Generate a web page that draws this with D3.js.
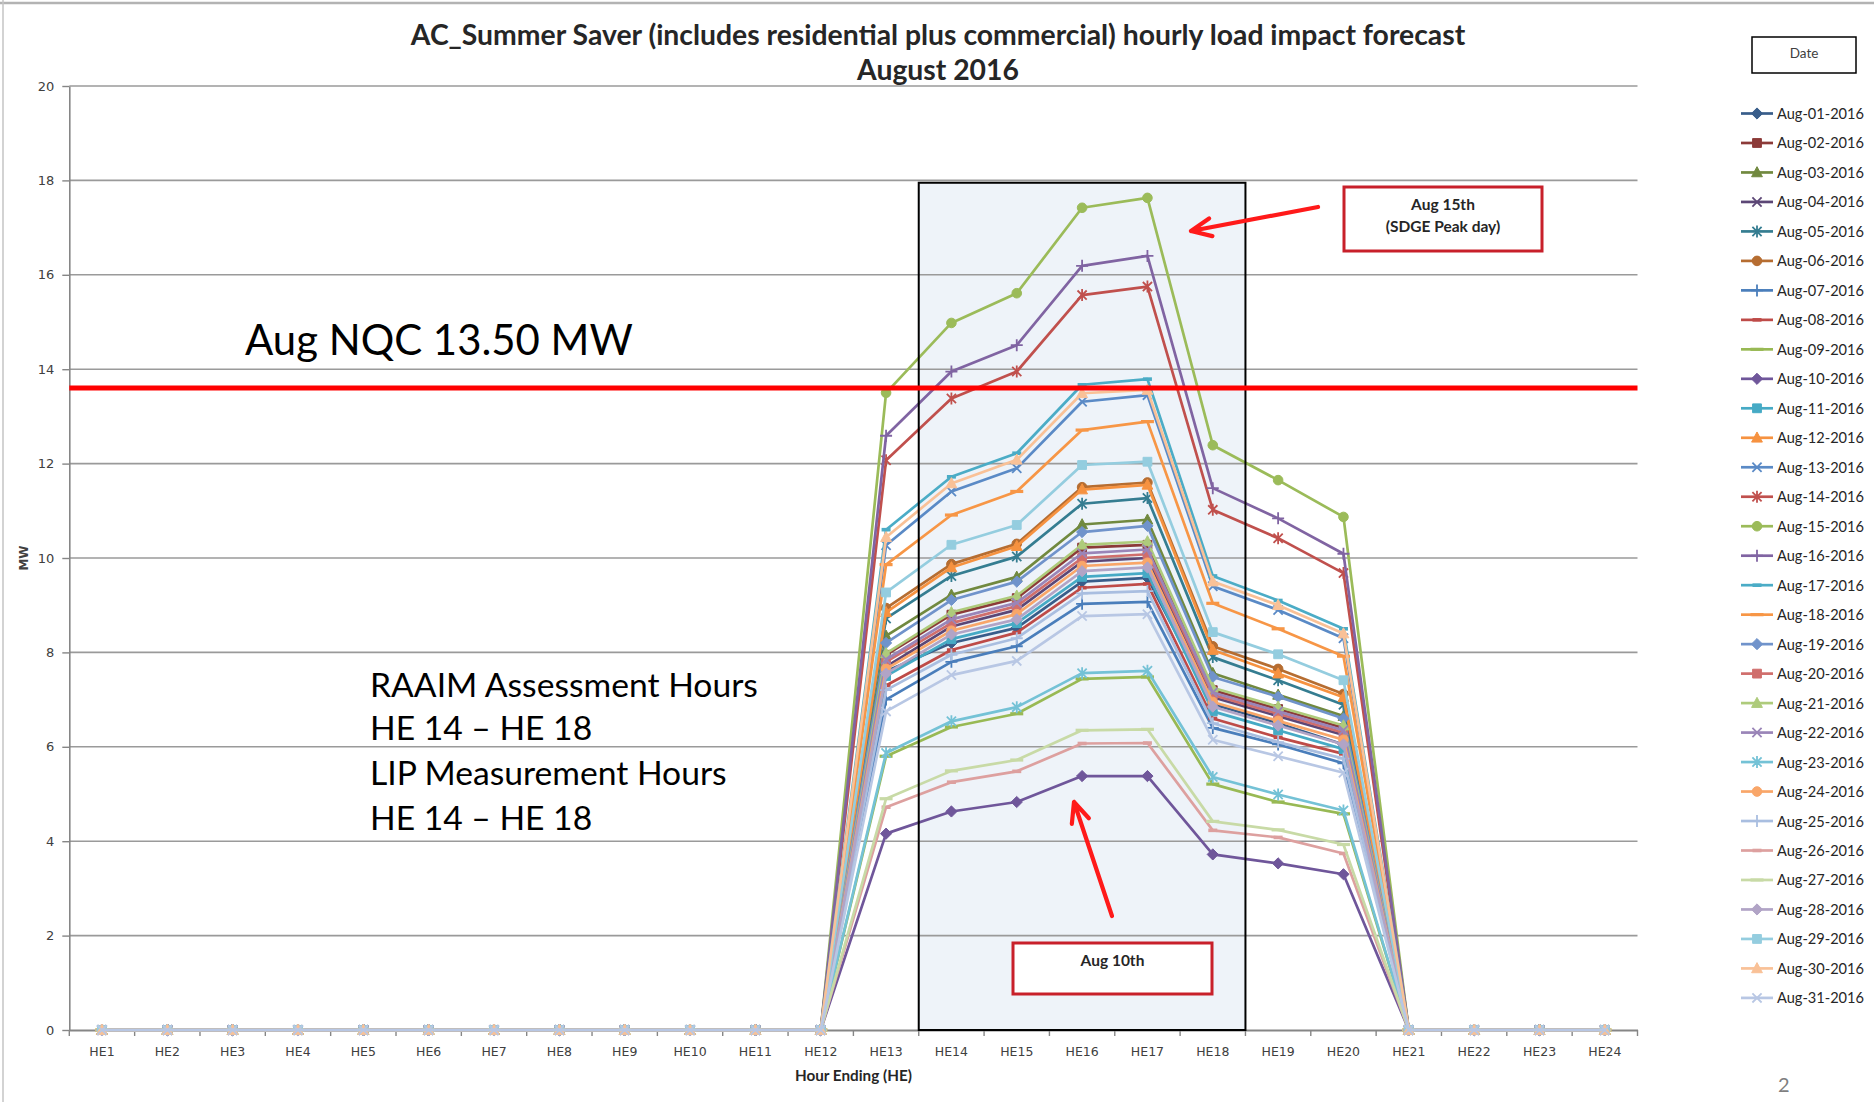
<!DOCTYPE html>
<html><head><meta charset="utf-8">
<script src="https://cdn.jsdelivr.net/npm/d3@7"></script>
<style>html,body{margin:0;padding:0;background:#fff;} svg{display:block}</style>
</head><body>
<svg id="chart" width="1874" height="1102"></svg>
<script>
// ---------- DATA ----------
const hours = ["HE1","HE2","HE3","HE4","HE5","HE6","HE7","HE8","HE9","HE10","HE11","HE12",
               "HE13","HE14","HE15","HE16","HE17","HE18","HE19","HE20","HE21","HE22","HE23","HE24"];
const yTicks = [0,2,4,6,8,10,12,14,16,18,20];
const dates = ["Aug-01-2016","Aug-02-2016","Aug-03-2016","Aug-04-2016","Aug-05-2016","Aug-06-2016",
  "Aug-07-2016","Aug-08-2016","Aug-09-2016","Aug-10-2016","Aug-11-2016","Aug-12-2016","Aug-13-2016",
  "Aug-14-2016","Aug-15-2016","Aug-16-2016","Aug-17-2016","Aug-18-2016","Aug-19-2016","Aug-20-2016",
  "Aug-21-2016","Aug-22-2016","Aug-23-2016","Aug-24-2016","Aug-25-2016","Aug-26-2016","Aug-27-2016",
  "Aug-28-2016","Aug-29-2016","Aug-30-2016","Aug-31-2016"];

const aug01 = [0,0,0,0,0,0,0,0,0,0,0,0, 7.60, 8.20, 8.52, 9.50, 9.58, 6.90, 6.50, 6.05, 0,0,0,0];
const aug02 = [0,0,0,0,0,0,0,0,0,0,0,0, 7.95, 8.80, 9.15,10.22,10.28, 7.20, 6.80, 6.40, 0,0,0,0];
const aug03 = [0,0,0,0,0,0,0,0,0,0,0,0, 8.35, 9.22, 9.60,10.71,10.81, 7.56, 7.10, 6.65, 0,0,0,0];
const aug04 = [0,0,0,0,0,0,0,0,0,0,0,0, 7.70, 8.55, 8.90, 9.92,10.00, 7.05, 6.65, 6.25, 0,0,0,0];
const aug05 = [0,0,0,0,0,0,0,0,0,0,0,0, 8.72, 9.62,10.03,11.15,11.27, 7.90, 7.41, 6.89, 0,0,0,0];
const aug06 = [0,0,0,0,0,0,0,0,0,0,0,0, 8.94, 9.87,10.30,11.50,11.60, 8.13, 7.65, 7.12, 0,0,0,0];
const aug07 = [0,0,0,0,0,0,0,0,0,0,0,0, 7.00, 7.80, 8.13, 9.03, 9.07, 6.40, 6.05, 5.65, 0,0,0,0];
const aug08 = [0,0,0,0,0,0,0,0,0,0,0,0, 7.30, 8.05, 8.42, 9.37, 9.45, 6.60, 6.20, 5.85, 0,0,0,0];
const aug09 = [0,0,0,0,0,0,0,0,0,0,0,0, 5.80, 6.42, 6.70, 7.44, 7.48, 5.21, 4.83, 4.58, 0,0,0,0];
const aug10 = [0,0,0,0,0,0,0,0,0,0,0,0, 4.16, 4.63, 4.83, 5.38, 5.38, 3.72, 3.53, 3.30, 0,0,0,0];
const aug11 = [0,0,0,0,0,0,0,0,0,0,0,0, 7.50, 8.28, 8.62, 9.60, 9.68, 6.75, 6.35, 5.95, 0,0,0,0];
const aug12 = [0,0,0,0,0,0,0,0,0,0,0,0, 8.85, 9.80,10.25,11.45,11.55, 8.05, 7.55, 7.05, 0,0,0,0];
const aug13 = [0,0,0,0,0,0,0,0,0,0,0,0,10.27,11.41,11.90,13.31,13.45, 9.40, 8.90, 8.30, 0,0,0,0];
const aug14 = [0,0,0,0,0,0,0,0,0,0,0,0,12.07,13.38,13.95,15.57,15.75,11.02,10.42, 9.68, 0,0,0,0];
const aug15 = [0,0,0,0,0,0,0,0,0,0,0,0,13.50,14.98,15.61,17.42,17.63,12.39,11.65,10.87, 0,0,0,0];
const aug16 = [0,0,0,0,0,0,0,0,0,0,0,0,12.59,13.95,14.51,16.19,16.40,11.48,10.84,10.09, 0,0,0,0];
const aug17 = [0,0,0,0,0,0,0,0,0,0,0,0,10.60,11.72,12.22,13.67,13.79, 9.62, 9.10, 8.50, 0,0,0,0];
const aug18 = [0,0,0,0,0,0,0,0,0,0,0,0, 9.86,10.91,11.41,12.71,12.89, 9.04, 8.50, 7.92, 0,0,0,0];
const aug19 = [0,0,0,0,0,0,0,0,0,0,0,0, 8.20, 9.11, 9.50,10.55,10.68, 7.48, 7.06, 6.60, 0,0,0,0];
const aug20 = [0,0,0,0,0,0,0,0,0,0,0,0, 7.80, 8.62, 8.98,10.00,10.08, 7.10, 6.70, 6.30, 0,0,0,0];
const aug21 = [0,0,0,0,0,0,0,0,0,0,0,0, 7.98, 8.85, 9.20,10.28,10.35, 7.25, 6.85, 6.45, 0,0,0,0];
const aug22 = [0,0,0,0,0,0,0,0,0,0,0,0, 7.85, 8.70, 9.05,10.10,10.18, 7.15, 6.75, 6.35, 0,0,0,0];
const aug23 = [0,0,0,0,0,0,0,0,0,0,0,0, 5.87, 6.54, 6.84, 7.56, 7.61, 5.36, 4.99, 4.65, 0,0,0,0];
const aug24 = [0,0,0,0,0,0,0,0,0,0,0,0, 7.65, 8.46, 8.81, 9.83, 9.90, 6.95, 6.55, 6.15, 0,0,0,0];
const aug25 = [0,0,0,0,0,0,0,0,0,0,0,0, 7.20, 7.95, 8.30, 9.25, 9.30, 6.50, 6.10, 5.75, 0,0,0,0];
const aug26 = [0,0,0,0,0,0,0,0,0,0,0,0, 4.72, 5.25, 5.48, 6.07, 6.08, 4.23, 4.08, 3.74, 0,0,0,0];
const aug27 = [0,0,0,0,0,0,0,0,0,0,0,0, 4.90, 5.49, 5.72, 6.35, 6.37, 4.42, 4.24, 3.93, 0,0,0,0];
const aug28 = [0,0,0,0,0,0,0,0,0,0,0,0, 7.55, 8.38, 8.70, 9.72, 9.80, 6.85, 6.45, 6.05, 0,0,0,0];
const aug29 = [0,0,0,0,0,0,0,0,0,0,0,0, 9.27,10.28,10.70,11.97,12.04, 8.43, 7.96, 7.41, 0,0,0,0];
const aug30 = [0,0,0,0,0,0,0,0,0,0,0,0,10.44,11.58,12.08,13.49,13.56, 9.50, 9.00, 8.40, 0,0,0,0];
const aug31 = [0,0,0,0,0,0,0,0,0,0,0,0, 6.75, 7.52, 7.82, 8.77, 8.81, 6.15, 5.80, 5.45, 0,0,0,0];

const seriesValues = [aug01,aug02,aug03,aug04,aug05,aug06,aug07,aug08,aug09,aug10,aug11,aug12,aug13,
  aug14,aug15,aug16,aug17,aug18,aug19,aug20,aug21,aug22,aug23,aug24,aug25,aug26,aug27,aug28,aug29,aug30,aug31];

const seriesColors = ["#385D8A","#8C3A38","#71893F","#5C4776","#357D91","#B66D31",
  "#4A7EBB","#BE4B48","#98B954","#6F569A","#46AAC5","#F69240",
  "#5A8AC6","#C0504D","#9BBB59","#8064A2","#4BACC6","#F79646",
  "#7093CB","#D06E6C","#AECB7B","#9A85B8","#74C2D6","#F9A669",
  "#A9BEE0","#DDA09F","#C8DAA6","#B1A4C6","#94CDDF","#F9C197","#B8C7E4"];
const markerCycle = ["diamond","square","triangle","x","star","circle","plus","dash","longdash"];

const nqcValue = 13.6;
const nqcLabel = "Aug NQC 13.50 MW";
const windowHours = ["HE14","HE18"];
const windowTop = 17.95;
const titleLines = ["AC_Summer Saver (includes residential plus commercial) hourly load impact forecast","August 2016"];
const noteLines = ["RAAIM Assessment Hours","HE 14 \u2013 HE 18","LIP Measurement Hours","HE 14 \u2013 HE 18"];
const peakNote = ["Aug 15th","(SDGE Peak day)"];
const lowNote = ["Aug 10th"];

// ---------- LAYOUT ----------
const svg = d3.select("#chart");
const X0 = 69.3, X1 = 1637.5, Y0 = 1030, Y1 = 86;
const x = d3.scaleBand().domain(hours).range([X0, X1]).paddingInner(0).paddingOuter(0);
const y = d3.scaleLinear().domain([0, 20]).range([Y0, Y1]);
const cx = h => x(h) + x.bandwidth() / 2;
const sans = "Lato, 'Open Sans', sans-serif";
const axisFont = "'DejaVu Sans', Verdana, sans-serif";

function fit(sel, target) {
  const w = sel.node().getComputedTextLength();
  const fs = parseFloat(sel.attr("font-size"));
  sel.attr("font-size", (fs * target / w).toFixed(2));
  return fs * target / w;
}

// slide frame bits
svg.append("line").attr("x1",0).attr("x2",1874).attr("y1",3).attr("y2",3).attr("stroke","#b3b3b3").attr("stroke-width",2.5);
svg.append("line").attr("x1",3).attr("x2",3).attr("y1",0).attr("y2",1102).attr("stroke","#c4c4c4").attr("stroke-width",1.5);

// shaded window
const wx0 = x(windowHours[0]), wx1 = x(windowHours[1]) + x.bandwidth();
svg.append("rect").attr("x", wx0).attr("y", y(windowTop)).attr("width", wx1 - wx0).attr("height", Y0 - y(windowTop))
  .attr("fill", "#EEF3F9");

// gridlines
svg.append("g").selectAll("line").data(yTicks.filter(t => t > 0)).join("line")
  .attr("x1", X0).attr("x2", X1).attr("y1", d => y(d)).attr("y2", d => y(d))
  .attr("stroke", "#9a9a9a").attr("stroke-width", 1.6);

// y axis
const yAxis = svg.append("g").attr("transform", `translate(${X0},0)`)
  .call(d3.axisLeft(y).tickValues(yTicks).tickSize(7).tickSizeOuter(0).tickPadding(8));
yAxis.select(".domain").attr("stroke", "#868686").attr("stroke-width", 1.6);
yAxis.selectAll(".tick line").attr("stroke", "#868686").attr("stroke-width", 1.4);
yAxis.selectAll("text").attr("font-family", axisFont).attr("font-size", 13).attr("fill", "#404040");

// x axis
const xAxis = svg.append("g").attr("transform", `translate(0,${Y0})`)
  .call(d3.axisBottom(x).tickSize(0).tickSizeOuter(0).tickPadding(17));
xAxis.select(".domain").attr("stroke", "#868686").attr("stroke-width", 1.8);
xAxis.selectAll("text").attr("font-family", axisFont).attr("font-size", 12.5).attr("fill", "#404040");
svg.append("g").selectAll("line").data(d3.range(hours.length + 1)).join("line")
  .attr("x1", i => X0 + i * x.bandwidth()).attr("x2", i => X0 + i * x.bandwidth())
  .attr("y1", Y0).attr("y2", Y0 + 6).attr("stroke", "#868686").attr("stroke-width", 1.4);

// axis titles
svg.append("text").attr("transform", `translate(24,${(Y0 + Y1) / 2}) rotate(-90)`)
  .attr("text-anchor", "middle").attr("dominant-baseline", "middle")
  .attr("font-family", axisFont).attr("font-weight", "bold").attr("font-size", 12).attr("fill", "#404040").text("MW");
const xt = svg.append("text").attr("x", (X0 + X1) / 2).attr("y", 1081).attr("text-anchor", "middle")
  .attr("font-family", sans).attr("font-weight", "bold").attr("font-size", 14).attr("fill", "#262626").text("Hour Ending (HE)");
fit(xt, 117);

// markers
const markerShapes = {
  diamond: {d: "M0,-5.6L5.6,0L0,5.6L-5.6,0Z", fill: true},
  square: {d: "M-4.4,-4.4H4.4V4.4H-4.4Z", fill: true},
  triangle: {d: "M0,-5.8L5.4,4.3H-5.4Z", fill: true},
  circle: {d: "M4.8,0A4.8,4.8 0 1,1 -4.8,0A4.8,4.8 0 1,1 4.8,0Z", fill: true},
  x: {d: "M-4.6,-4.6L4.6,4.6M-4.6,4.6L4.6,-4.6", sw: 1.8},
  star: {d: "M-4.6,-4.6L4.6,4.6M-4.6,4.6L4.6,-4.6M0,-6L0,6", sw: 1.8},
  plus: {d: "M-6,0L6,0M0,-6L0,6", sw: 1.8},
  dash: {d: "M-4.5,0L4.5,0", sw: 3.6},
  longdash: {d: "M-6.5,0L6.5,0", sw: 3.2}
};
function addMarker(g, type, color, px, py) {
  const m = markerShapes[type];
  g.append("path").attr("d", m.d).attr("transform", `translate(${px},${py})`)
    .attr("fill", m.fill ? color : "none").attr("stroke", color)
    .attr("stroke-width", m.fill ? 1 : m.sw);
}

// series
const line = d3.line().x((d, i) => cx(hours[i])).y(d => y(d));
const seriesG = svg.append("g");
seriesValues.forEach((vals, si) => {
  const g = seriesG.append("g");
  g.append("path").attr("d", line(vals)).attr("fill", "none")
    .attr("stroke", seriesColors[si]).attr("stroke-width", 2.7).attr("stroke-linejoin", "round");
  vals.forEach((v, i) => addMarker(g, markerCycle[si % 9], seriesColors[si], cx(hours[i]), y(v)));
});

// window border
svg.append("rect").attr("x", wx0).attr("y", y(windowTop)).attr("width", wx1 - wx0).attr("height", Y0 - y(windowTop))
  .attr("fill", "none").attr("stroke", "#000").attr("stroke-width", 2);

// NQC line
svg.append("line").attr("x1", X0).attr("x2", X1).attr("y1", y(nqcValue)).attr("y2", y(nqcValue))
  .attr("stroke", "#FF0000").attr("stroke-width", 5);
const nq = svg.append("text").attr("x", 245).attr("y", 355).attr("font-family", sans)
  .attr("font-size", 42).attr("fill", "#000").text(nqcLabel);
fit(nq, 388);

// RAAIM notes
const note0 = svg.append("text").attr("x", 370).attr("y", 697).attr("font-family", sans).attr("font-size", 34).text(noteLines[0]);
const nfs = fit(note0, 388);
[740, 785, 830].forEach((yy, i) => {
  svg.append("text").attr("x", 370).attr("y", yy).attr("font-family", sans).attr("font-size", nfs).text(noteLines[i + 1]);
});

// title
const t1 = svg.append("text").attr("x", 938).attr("y", 45).attr("text-anchor", "middle")
  .attr("font-family", sans).attr("font-weight", "bold").attr("font-size", 26).attr("fill", "#262626").text(titleLines[0]);
const tfs = fit(t1, 1055);
svg.append("text").attr("x", 938).attr("y", 80).attr("text-anchor", "middle")
  .attr("font-family", sans).attr("font-weight", "bold").attr("font-size", tfs).attr("fill", "#262626").text(titleLines[1]);

// arrows
function arrow(xa, ya, xb, yb) {
  const ang = Math.atan2(ya - yb, xa - xb), L = 22, a = 0.42;
  svg.append("path")
    .attr("d", `M${xa},${ya}L${xb},${yb}M${xb + L * Math.cos(ang - a)},${yb + L * Math.sin(ang - a)}L${xb},${yb}L${xb + L * Math.cos(ang + a)},${yb + L * Math.sin(ang + a)}`)
    .attr("fill", "none").attr("stroke", "#FF1A1A").attr("stroke-width", 4.2)
    .attr("stroke-linecap", "round").attr("stroke-linejoin", "round");
}
arrow(1318, 207, 1191, 231);
arrow(1112, 916, 1074, 802);

// annotation boxes
function noteBox(bx, by, bw, bh, lines, baselines) {
  svg.append("rect").attr("x", bx).attr("y", by).attr("width", bw).attr("height", bh)
    .attr("fill", "#fff").attr("stroke", "#C8202A").attr("stroke-width", 3);
  lines.forEach((t, i) => svg.append("text").attr("x", bx + bw / 2).attr("y", baselines[i])
    .attr("text-anchor", "middle").attr("font-family", sans).attr("font-weight", "bold")
    .attr("font-size", 15.5).attr("fill", "#262626").text(t));
}
noteBox(1344, 187, 198, 64, peakNote, [210, 232]);
noteBox(1013, 943, 199, 51, lowNote, [966]);

// legend
svg.append("rect").attr("x", 1752).attr("y", 37).attr("width", 104).attr("height", 36)
  .attr("fill", "#fff").attr("stroke", "#000").attr("stroke-width", 1.5);
svg.append("text").attr("x", 1804).attr("y", 53).attr("text-anchor", "middle").attr("dominant-baseline", "central")
  .attr("font-family", sans).attr("font-size", 13.5).attr("fill", "#404040").text("Date");
const lg = svg.append("g");
let lfs = null;
dates.forEach((d, i) => {
  const ly = 113.5 + i * 29.48;
  lg.append("line").attr("x1", 1741).attr("x2", 1773).attr("y1", ly).attr("y2", ly)
    .attr("stroke", seriesColors[i]).attr("stroke-width", 2.7);
  addMarker(lg, markerCycle[i % 9], seriesColors[i], 1757, ly);
  const t = lg.append("text").attr("x", 1777).attr("y", ly).attr("dominant-baseline", "central")
    .attr("font-family", sans).attr("font-size", lfs || 14).attr("fill", "#262626").text(d);
  if (lfs === null) lfs = fit(t, 87);
});

// page number
svg.append("text").attr("x", 1778).attr("y", 1092).attr("font-family", sans).attr("font-size", 20)
  .attr("fill", "#7f7f7f").text("2");
</script>
</body></html>
